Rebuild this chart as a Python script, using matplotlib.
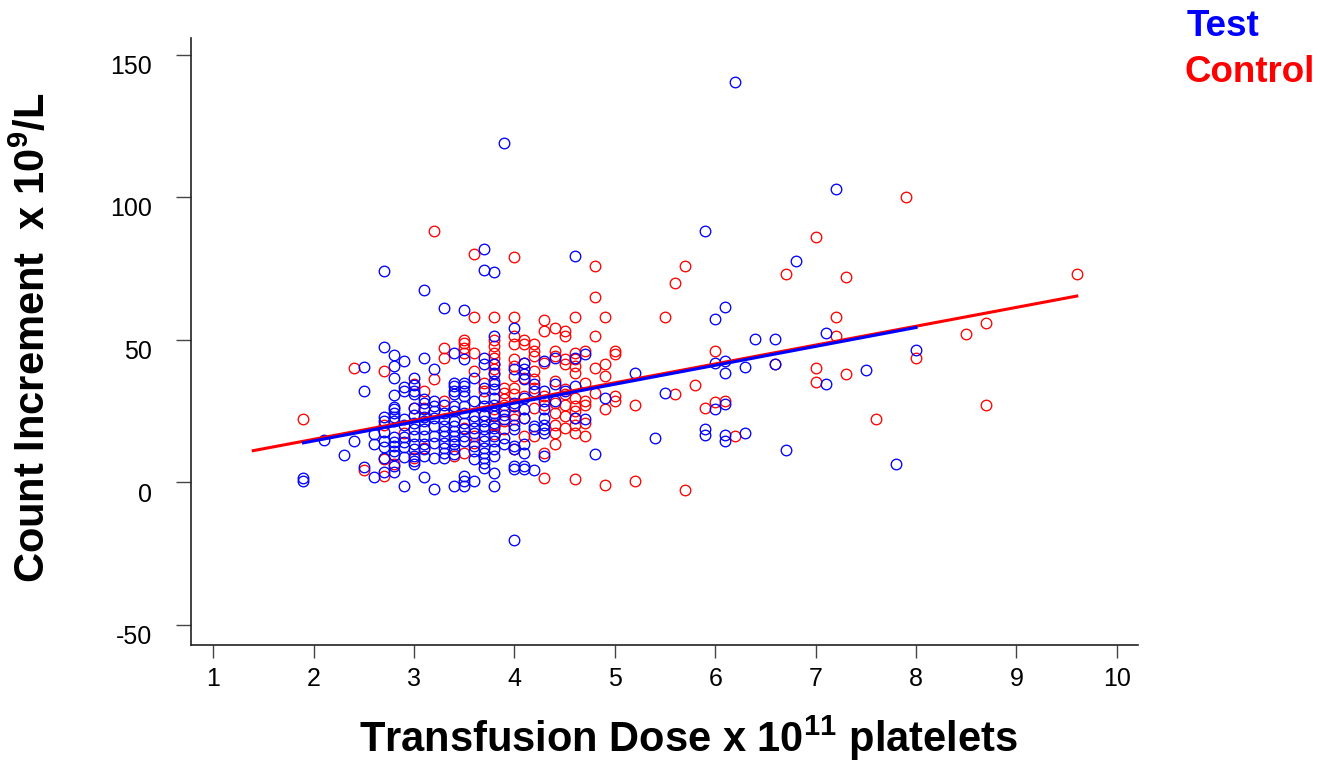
import matplotlib
matplotlib.use("Agg")
import matplotlib.pyplot as plt
import matplotlib.transforms as mtransforms
import numpy as np

plt.rcParams['font.family'] = ['Liberation Sans', 'DejaVu Sans']
plt.rcParams['mathtext.fontset'] = 'custom'
plt.rcParams['mathtext.rm'] = 'Liberation Sans'
plt.rcParams['mathtext.bf'] = 'Liberation Sans:bold'

# Test (blue) points, grouped by transfusion dose
test_dose = {
    1.9: [1.5, 0.4],
    2.1: [15],
    2.3: [9.5],
    2.4: [14.5],
    2.5: [40.5, 32, 5.5],
    2.6: [17, 13.5, 1.8],
    2.7: [74, 47.5, 22.8, 21.4, 17.5, 14.4, 12.3, 8.4, 3.5],
    2.8: [44.5, 40.7, 36.5, 30.5, 26.6, 25.6, 24.5, 23.1, 21.4, 15.8, 14.0, 12.6, 10.9, 9.5, 5.6, 3.5],
    2.9: [42.4, 33.3, 32.2, 22.1, 20.3, 15.8, 14.0, 12.3, 8.8, -1.4],
    3.0: [36.5, 34, 32, 31, 26, 23.5, 21, 18.6, 16.3, 13.3, 11.8, 9.2, 7.5, 6.3],
    3.1: [67.6, 43.5, 29.1, 27.7, 25.6, 23.1, 21.4, 18.6, 16.1, 13.3, 11.6, 9.1, 1.8],
    3.2: [39.6, 28.5, 26.8, 25.0, 22.7, 19.7, 16.2, 13.9, 8.6, -2.2],
    3.3: [61.3, 27.3, 24.4, 22.1, 19.7, 18.0, 16.2, 13.9, 12.1, 10.4, 8.6],
    3.4: [45.5, 34.9, 33.8, 32.0, 30.9, 26.8, 25.0, 21.5, 19.7, 18.0, 16.2, 14.5, 13.3, 11.6, 9.8, -1.3],
    3.5: [60.3, 43.3, 34.9, 33.8, 32.0, 30.3, 26.8, 24.4, 20.9, 18.6, 16.2, 14.5, 2.2, 0.5, -1.3],
    3.6: [36.7, 28.5, 23.2, 21.5, 19.2, 17.4, 12.7, 11.0, 8.1, 0.5],
    3.7: [82, 74.6, 43.7, 41.4, 33.2, 29.7, 26.8, 23.8, 21.5, 19.7, 18.6, 16.2, 14.5, 12.1, 10.4, 8.6, 6.9, 5.1],
    3.8: [73.6, 51.5, 41.4, 38.4, 35.5, 34.4, 32.6, 29.7, 27.3, 24.4, 23.2, 20.9, 19.2, 16.2, 14.5, 11.6, 9.2, 3.4, -1.3],
    3.9: [119, 25.0, 23.8, 22.1, 15.6, 13.3],
    4.0: [54.3, 39.6, 27.9, 26.8, 20.3, 18.6, 12.7, 11.6, 5.7, 4.6, -20.2],
    4.1: [41.9, 39.8, 37.9, 36.1, 29.7, 25.6, 22.7, 13.3, 10.4, 5.7, 4.6],
    4.2: [34.4, 32.0, 19.7, 18.6, 4.4],
    4.3: [42.5, 32.0, 28.5, 25.6, 22.7, 20.3, 18.6, 17.4, 9.2],
    4.4: [43.7, 34.4, 28.5],
    4.5: [32.0],
    4.6: [79.5, 43.7, 33.8, 22.7],
    4.7: [44.9, 22.1],
    4.8: [9.8],
    4.9: [29.7],
    5.2: [38.4],
    5.4: [15.5],
    5.5: [31.4],
    5.9: [88, 18.6, 16.5],
    6.0: [57.4, 41.7, 25.6],
    6.1: [61.4, 42.6, 38.2, 27.5, 16.6, 14.6],
    6.2: [140.2],
    6.3: [40.5, 17.4],
    6.4: [50.3],
    6.6: [50.3, 41.4],
    6.7: [11.4],
    6.8: [77.5],
    7.1: [52.5, 34.4],
    7.2: [103],
    7.5: [39.5],
    7.8: [6.6],
    8.0: [46.4],
}

# Control (red) points, grouped by transfusion dose
control_dose = {
    1.9: [22.4],
    2.4: [40],
    2.5: [4.4],
    2.7: [39, 20, 8.2, 2.1],
    2.8: [6.6],
    2.9: [17.2],
    3.0: [34.4, 26.2, 8.5],
    3.1: [32, 26.2, 12.1],
    3.2: [88, 36.1],
    3.3: [47.2, 43.7, 28.5],
    3.4: [9.2],
    3.5: [50, 48.9, 47.2, 45.5, 19.2, 10.4],
    3.6: [80, 58, 45.5, 39, 16.2, 13.9],
    3.7: [34.9, 32, 23.8],
    3.8: [58, 50.1, 47.8, 45.5, 43.7, 41.4, 39.6, 37.9, 25.6, 20.3, 16.8],
    3.9: [33.2, 31.4, 29.1, 27.3, 21.5, 18.6],
    4.0: [79, 58, 51.3, 48.4, 43.1, 40.8, 37.3, 33.2, 30.9, 26.8, 23.8, 22.1, 11.6],
    4.1: [50.1, 48.4, 41.9, 36.7, 30.3, 22.7, 16.2],
    4.2: [48.4, 46.0, 44.3, 39.0, 36.1, 33.2, 26.2, 16.2],
    4.3: [57, 53, 41.9, 30.3, 27.3, 10.4, 1.5],
    4.4: [54, 46.0, 44.3, 35.5, 27.9, 24.4, 20.3, 17.4, 13.6],
    4.5: [53, 51.3, 43.1, 41.4, 32.6, 30.9, 27.3, 23.2, 19.2],
    4.6: [58, 45.5, 43.1, 40.8, 38.4, 29.7, 26.8, 25.0, 22.7, 20.3, 17.4, 1.3],
    4.7: [46.0, 34.9, 28.5, 27.3, 20.9, 16.2],
    4.8: [76, 65, 51.3, 40.2, 31.4],
    4.9: [58, 41.4, 37.3, 25.6, -0.8],
    5.0: [46.0, 44.9, 30.3, 28.5],
    5.2: [27, 0.4],
    5.5: [58],
    5.6: [70, 31],
    5.7: [76, -2.7],
    5.8: [34],
    5.9: [26.2],
    6.0: [46, 28.3],
    6.1: [28.5],
    6.2: [16.1],
    6.6: [41.4],
    6.7: [73],
    7.0: [86, 40, 35.2],
    7.2: [58, 51.3],
    7.3: [72, 38],
    7.6: [22.3],
    7.9: [100],
    8.0: [43.5],
    8.5: [52],
    8.7: [56, 27],
    9.6: [73],
}

# fitted lines: intercept, slope, x range
test_fit = (1.27, 6.63)
test_fit_x = (1.9, 8.0)
control_fit = (1.88, 6.61)
control_fit_x = (1.4, 9.6)


def flatten(groups):
    xs, ys = [], []
    for dose, vals in groups.items():
        xs += [dose] * len(vals)
        ys += vals
    return np.array(xs), np.array(ys)


tx, ty = flatten(test_dose)
cx, cy = flatten(control_dose)

fig = plt.figure(figsize=(13.21, 7.64), dpi=100)
ax = fig.add_axes([191 / 1321, 1 - 645 / 764, (1138 - 191) / 1321, (645 - 38) / 764])

ax.plot(cx, cy, 'o', ms=7.6, mfc='none', mec='#ff0000', mew=0.95, zorder=2)
ax.plot(tx, ty, 'o', ms=7.6, mfc='none', mec='#0000ff', mew=0.95, zorder=3)

# regression lines
lx = np.array(control_fit_x)
ax.plot(lx, control_fit[0] + control_fit[1] * lx, color='#ff0000', lw=2.2, zorder=4)
lx = np.array(test_fit_x)
ax.plot(lx, test_fit[0] + test_fit[1] * lx, color='#0000ff', lw=2.2, zorder=5)

ax.set_xlim(0.78, 10.21)
ax.set_ylim(-57, 155.8)
ax.set_xticks(range(1, 11))
ax.set_yticks([-50, 0, 50, 100, 150])
ax.set_yticklabels(['-50', '0', '50', '100', '150'])

for s in ['top', 'right']:
    ax.spines[s].set_visible(False)
for s in ['left', 'bottom']:
    ax.spines[s].set_linewidth(1.2)
    ax.spines[s].set_color('#222222')

ax.tick_params(axis='y', direction='out', length=11, width=1, color='#444444',
               labelsize=18, pad=17)
ax.tick_params(axis='x', direction='out', length=9, width=1, color='#444444',
               labelsize=18, pad=7)

# y tick labels sit a little below their ticks in the original
shift = mtransforms.ScaledTranslation(0, -7 / 72, fig.dpi_scale_trans)
for lab in ax.get_yticklabels():
    lab.set_transform(lab.get_transform() + shift)

fig.text(33 / 1321, 1 - 338 / 764, r'Count Increment  x 10$^{\mathbf{9}}$/L',
         rotation=90, ha='center', va='center', fontsize=30, fontweight='bold')
fig.text(688 / 1321, 1 - 738 / 764, r'Transfusion Dose x 10$^{\mathbf{11}}$ platelets',
         ha='center', va='center', fontsize=30, fontweight='bold')

fig.text(1187 / 1321, 1 - 36 / 764, 'Test', color='#0000ff', fontsize=26.5,
         fontweight='bold', ha='left', va='baseline')
fig.text(1185 / 1321, 1 - 82 / 764, 'Control', color='#ff0000', fontsize=26.5,
         fontweight='bold', ha='left', va='baseline')

fig.savefig('out.png', dpi=100)
